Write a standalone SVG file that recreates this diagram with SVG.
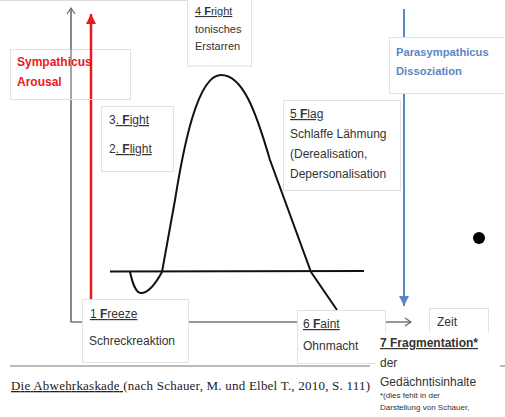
<svg xmlns="http://www.w3.org/2000/svg" width="505" height="417" viewBox="0 0 505 417">
<style>
.box{fill:#fff;stroke:#e2e2e2;stroke-width:1}
.t{font-family:"Liberation Sans",Arial,sans-serif;font-size:12px;fill:#333}
.s{font-size:11px}
.b{font-weight:bold}
.u{text-decoration:underline}
.cap{font-family:"Liberation Serif","Times New Roman",serif;font-size:13px;fill:#222}
</style>
<defs>
<marker id="openG" markerWidth="10" markerHeight="10" refX="8" refY="5" orient="auto" markerUnits="userSpaceOnUse">
<path d="M2,1 L8,5 L2,9" fill="none" stroke="#666" stroke-width="1.2"/>
</marker>
<marker id="red" markerWidth="12" markerHeight="12" refX="10" refY="6" orient="auto" markerUnits="userSpaceOnUse">
<path d="M0,1 L10,6 L0,11 Z" fill="#e8191c"/>
</marker>
<marker id="blue" markerWidth="12" markerHeight="12" refX="10" refY="6" orient="auto" markerUnits="userSpaceOnUse">
<path d="M0,1 L10,6 L0,11 Z" fill="#5b86c4"/>
</marker>
</defs>
<rect width="505" height="417" fill="#fff"/>
<line x1="0" y1="0.5" x2="190" y2="0.5" stroke="#ddd"/>

<g id="connectors">
<polyline points="71,10 71,322 411,322" fill="none" stroke="#777" stroke-width="1.3" marker-end="url(#openG)"/>
<line x1="71" y1="322" x2="71" y2="8" stroke="#777" stroke-width="1.3" marker-end="url(#openG)"/>
<line x1="91" y1="299" x2="91" y2="14" stroke="#e8191c" stroke-width="2.5" marker-end="url(#red)"/>
<line x1="404" y1="9" x2="404" y2="306" stroke="#5b86c4" stroke-width="2" marker-end="url(#blue)"/>
<line x1="110" y1="271.5" x2="364" y2="271" stroke="#111" stroke-width="2"/>
<path d="M130,272 C133,285 136,293 141,293 C148,293 156,283 162,272 L175,200 C183,150 197,75 221,75 C243,75 256,112 270,160 L311,272 L337,310" fill="none" stroke="#111" stroke-width="2"/>
<line x1="10" y1="366" x2="370" y2="366" stroke="#777" stroke-width="1"/>
<line x1="490" y1="366" x2="505" y2="366" stroke="#777" stroke-width="1"/>
</g>

<g id="sympathicus">
<rect class="box" x="10.5" y="49.5" width="120" height="50"/>
<text class="t b" x="17" y="66" style="fill:#e8191c">Sympathicus</text>
<text class="t b" x="17" y="86" style="fill:#e8191c">Arousal</text>
</g>
<line x1="71" y1="99" x2="71" y2="49" stroke="#777" stroke-width="1.3"/>
<line x1="91" y1="99" x2="91" y2="49" stroke="#e8191c" stroke-width="2.5"/>

<g id="fight">
<rect class="box" x="101.5" y="106.5" width="72" height="65"/>
<text class="t" x="109" y="124">3<tspan class="u">. <tspan class="b">F</tspan>ight</tspan></text>
<text class="t" x="109" y="153">2<tspan class="u">. <tspan class="b">F</tspan>light</tspan></text>
</g>

<g id="fright">
<rect class="box" x="187.5" y="-1" width="64" height="67"/>
<text class="t s" x="195" y="15"><tspan class="u">4 <tspan class="b">F</tspan>right</tspan></text>
<text class="t s" x="195" y="33">tonisches</text>
<text class="t s" x="195" y="50">Erstarren</text>
</g>

<g id="parasympathicus">
<rect class="box" x="389.5" y="37.5" width="120" height="56"/>
<text class="t b" x="396" y="56" style="font-size:11.2px;fill:#5b86c4">Parasympathicus</text>
<text class="t b" x="396" y="75" style="font-size:11.2px;fill:#5b86c4">Dissoziation</text>
</g>

<g id="flag">
<rect class="box" x="283.5" y="100.5" width="117" height="90"/>
<text class="t" x="290" y="118"><tspan class="u">5 <tspan class="b">F</tspan>lag</tspan></text>
<text class="t" x="290" y="138">Schlaffe Lähmung</text>
<text class="t" x="290" y="158">(Derealisation,</text>
<text class="t" x="290" y="178">Depersonalisation</text>
</g>

<g id="freeze">
<rect class="box" x="82.5" y="299.5" width="106" height="63"/>
<text class="t" x="90" y="318"><tspan class="u"> 1 <tspan class="b">F</tspan>reeze</tspan></text>
<text class="t" x="89" y="345">Schreckreaktion</text>
</g>

<g id="faint">
<rect class="box" x="297.5" y="310.5" width="88" height="53"/>
<text class="t" x="303" y="328"><tspan class="u">6 <tspan class="b">F</tspan>aint</tspan></text>
<text class="t" x="303" y="350">Ohnmacht</text>
</g>

<g id="zeit">
<rect class="box" x="429.5" y="308.5" width="59" height="26"/>
<text class="t" x="437" y="326">Zeit</text>
</g>

<g id="fragmentation">
<rect x="376" y="333" width="124" height="84" fill="#fff"/>
<text class="t b u" x="380" y="347">7 Fragmentation*</text>
<text class="t" x="380" y="367">der</text>
<text class="t" x="380" y="386">Gedächntisinhalte</text>
<text class="t" x="380" y="398" style="font-size:8px">*(dies fehlt in der</text>
<text class="t" x="380" y="410" style="font-size:8px">Darstellung von Schauer,</text>
</g>

<circle cx="479" cy="238" r="6" fill="#000"/>

<text class="cap" x="11" y="390" textLength="359"><tspan style="text-decoration:underline">Die Abwehrkaskade </tspan>(nach Schauer, M. und Elbel T., 2010, S. 111)</text>
</svg>
